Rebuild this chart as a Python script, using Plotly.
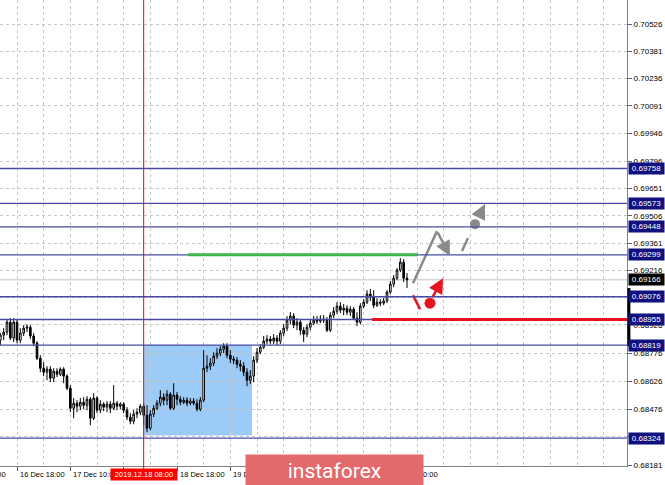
import plotly.graph_objects as go

# ---------------- data ----------------
# hourly bars (index in bars; weekend skipped like MT4)
bar_index = list(range(-5, 118))

opens = [
    0.68845, 0.68872, 0.68888, 0.68941, 0.68856,
    0.68941, 0.68845, 0.68883, 0.68909, 0.68914, 0.68867, 0.68829, 0.68749, 0.68696, 0.68675,
    0.68691, 0.68643, 0.68680, 0.68664, 0.68691, 0.68654, 0.68590, 0.68483, 0.68510, 0.68494,
    0.68515, 0.68499, 0.68531, 0.68430, 0.68537, 0.68473, 0.68505, 0.68489, 0.68505, 0.68483,
    0.68510, 0.68494, 0.68505, 0.68473, 0.68436, 0.68414, 0.68452, 0.68462, 0.68494, 0.68446,
    0.68377, 0.68452, 0.68483, 0.68510, 0.68542, 0.68526, 0.68558, 0.68483, 0.68553, 0.68531,
    0.68515, 0.68526, 0.68510, 0.68521, 0.68510, 0.68478, 0.68526, 0.68696, 0.68707, 0.68723,
    0.68760, 0.68776, 0.68797, 0.68813, 0.68765, 0.68744, 0.68739, 0.68717, 0.68707, 0.68675,
    0.68632, 0.68654, 0.68739, 0.68781, 0.68808, 0.68840, 0.68851, 0.68840, 0.68856, 0.68840,
    0.68883, 0.68909, 0.68952, 0.68973, 0.68925, 0.68941, 0.68898, 0.68877, 0.68914, 0.68936,
    0.68952, 0.68946, 0.68957, 0.68952, 0.68898, 0.68978, 0.68999, 0.69026, 0.69005, 0.69015,
    0.68994, 0.69010, 0.68962, 0.68941, 0.69026, 0.69047, 0.69090, 0.69074, 0.69031, 0.69047,
    0.69042, 0.69053, 0.69101, 0.69143, 0.69175, 0.69218, 0.69260, 0.69175,
]
highs = [
    0.68883, 0.68909, 0.68952, 0.68962, 0.68962,
    0.68957, 0.68909, 0.68925, 0.68930, 0.68925, 0.68883, 0.68840, 0.68765, 0.68728, 0.68707,
    0.68707, 0.68696, 0.68696, 0.68701, 0.68701, 0.68664, 0.68606, 0.68537, 0.68526, 0.68537,
    0.68542, 0.68547, 0.68542, 0.68563, 0.68547, 0.68526, 0.68515, 0.68521, 0.68521, 0.68606,
    0.68521, 0.68515, 0.68515, 0.68489, 0.68457, 0.68473, 0.68483, 0.68505, 0.68510, 0.68499,
    0.68473, 0.68499, 0.68526, 0.68579, 0.68563, 0.68579, 0.68569, 0.68616, 0.68569, 0.68547,
    0.68542, 0.68542, 0.68537, 0.68537, 0.68531, 0.68542, 0.68792, 0.68765, 0.68749, 0.68781,
    0.68803, 0.68813, 0.68829, 0.68829, 0.68792, 0.68760, 0.68755, 0.68739, 0.68728, 0.68696,
    0.68686, 0.68760, 0.68803, 0.68824, 0.68867, 0.68872, 0.68867, 0.68877, 0.68872, 0.68898,
    0.68930, 0.68973, 0.68994, 0.68989, 0.68962, 0.68952, 0.68914, 0.68930, 0.68957, 0.68973,
    0.68973, 0.68978, 0.68978, 0.68968, 0.68994, 0.69021, 0.69047, 0.69047, 0.69037, 0.69031,
    0.69026, 0.69021, 0.68994, 0.69042, 0.69063, 0.69111, 0.69117, 0.69111, 0.69069, 0.69063,
    0.69069, 0.69111, 0.69159, 0.69191, 0.69228, 0.69281, 0.69276, 0.69202,
]
lows = [
    0.68819, 0.68845, 0.68872, 0.68845, 0.68835,
    0.68829, 0.68829, 0.68867, 0.68888, 0.68851, 0.68813, 0.68739, 0.68675, 0.68654, 0.68632,
    0.68622, 0.68622, 0.68649, 0.68654, 0.68616, 0.68579, 0.68462, 0.68430, 0.68462, 0.68473,
    0.68478, 0.68473, 0.68393, 0.68420, 0.68457, 0.68457, 0.68467, 0.68462, 0.68457, 0.68473,
    0.68473, 0.68478, 0.68457, 0.68420, 0.68398, 0.68398, 0.68430, 0.68446, 0.68393, 0.68356,
    0.68366, 0.68436, 0.68473, 0.68494, 0.68499, 0.68499, 0.68473, 0.68473, 0.68499, 0.68499,
    0.68505, 0.68494, 0.68499, 0.68499, 0.68467, 0.68467, 0.68515, 0.68675, 0.68686, 0.68707,
    0.68744, 0.68760, 0.68776, 0.68749, 0.68723, 0.68717, 0.68696, 0.68680, 0.68654, 0.68600,
    0.68611, 0.68622, 0.68723, 0.68771, 0.68797, 0.68824, 0.68824, 0.68824, 0.68819, 0.68824,
    0.68867, 0.68893, 0.68930, 0.68909, 0.68898, 0.68872, 0.68835, 0.68861, 0.68898, 0.68925,
    0.68930, 0.68936, 0.68936, 0.68888, 0.68888, 0.68962, 0.68984, 0.68989, 0.68978, 0.68978,
    0.68973, 0.68952, 0.68920, 0.68930, 0.69015, 0.69037, 0.69053, 0.69015, 0.69021, 0.69026,
    0.69031, 0.69042, 0.69090, 0.69127, 0.69164, 0.69207, 0.69154, 0.69122,
]
closes = [
    0.68872, 0.68888, 0.68941, 0.68856, 0.68941,
    0.68845, 0.68883, 0.68909, 0.68914, 0.68867, 0.68829, 0.68749, 0.68696, 0.68675, 0.68691,
    0.68643, 0.68680, 0.68664, 0.68691, 0.68654, 0.68590, 0.68483, 0.68510, 0.68494, 0.68515,
    0.68499, 0.68531, 0.68430, 0.68537, 0.68473, 0.68505, 0.68489, 0.68505, 0.68483, 0.68510,
    0.68494, 0.68505, 0.68473, 0.68436, 0.68414, 0.68452, 0.68462, 0.68494, 0.68446, 0.68377,
    0.68452, 0.68483, 0.68510, 0.68542, 0.68526, 0.68558, 0.68483, 0.68553, 0.68531, 0.68515,
    0.68526, 0.68510, 0.68521, 0.68510, 0.68478, 0.68526, 0.68696, 0.68707, 0.68723, 0.68760,
    0.68776, 0.68797, 0.68813, 0.68765, 0.68744, 0.68739, 0.68717, 0.68707, 0.68675, 0.68632,
    0.68654, 0.68739, 0.68781, 0.68808, 0.68840, 0.68851, 0.68840, 0.68856, 0.68840, 0.68883,
    0.68909, 0.68952, 0.68973, 0.68925, 0.68941, 0.68898, 0.68877, 0.68914, 0.68936, 0.68952,
    0.68946, 0.68957, 0.68952, 0.68898, 0.68978, 0.68999, 0.69026, 0.69005, 0.69015, 0.68994,
    0.69010, 0.68962, 0.68941, 0.69026, 0.69047, 0.69090, 0.69074, 0.69031, 0.69047, 0.69042,
    0.69053, 0.69101, 0.69143, 0.69175, 0.69218, 0.69260, 0.69175, 0.69166,
]

price_ticks = [0.70526, 0.70381, 0.70236, 0.70091, 0.69946, 0.69796, 0.69651, 0.69506,
               0.69361, 0.69216, 0.69071, 0.68926, 0.68776, 0.68626, 0.68476, 0.68331, 0.68181]
level_prices = [0.69758, 0.69573, 0.69448, 0.69299, 0.69076, 0.68955, 0.68819, 0.68324]
current_price = 0.69166

time_tick_bars = [0, 16, 32, 48, 64, 80, 96, 112]
time_tick_labels = ["16 Dec 18:00", "17 Dec 10:00", "18 Dec 02:00", "18 Dec 18:00",
                    "19 Dec 10:00", "20 Dec 02:00", "20 Dec 18:00", "23 Dec 10:00"]
prev_label = "16 Dec 02:00"
marker_bar = 38
marker_label = "2019.12.18 08:00"

# drawn objects (bar index, price)
zone_bars = [38, 70.5]
zone_prices = [0.68338, 0.68819]
green_bars = [51.3, 120.3]
green_price = 0.69299
red_bars = [106.5, 183]
red_price = 0.68955

gray_path_bars = [118.8, 126.0, 129.9]
gray_path_prices = [0.69148, 0.69425, 0.69292]
gray_dash_bars = [133.5, 135.3]
gray_dash_prices = [0.69319, 0.69388]
gray_dot = (137.4, 0.69462)
gray_head = ([138.9, 140.4], [0.69515, 0.69569])

red_dash_bars = [118.8, 120.9]
red_dash_prices = [0.69084, 0.69010]
red_dot = (123.9, 0.69042)
red_head = ([124.5, 127.8], [0.69069, 0.69175])

X_RANGE = [-5.1, 183.0]
Y_RANGE = [0.68176, 0.70654]

# ---------------- figure ----------------
GRID = "#c8c8c8"
GRID_DASH = "3px,3px"
LEVEL = "#4a4aa6"
NAVY = "#10107e"
GRAY = "#8a8a8a"
RED = "#e5141e"
FONT = "Liberation Sans"

fig = go.Figure()

fig.add_trace(go.Candlestick(
    x=bar_index, open=opens, high=highs, low=lows, close=closes,
    increasing=dict(line=dict(color="black", width=1), fillcolor="white"),
    decreasing=dict(line=dict(color="black", width=1), fillcolor="black"),
    whiskerwidth=0, showlegend=False, hoverinfo="skip",
))

# forecast sketches
fig.add_trace(go.Scatter(x=gray_path_bars[:2], y=gray_path_prices[:2], mode="lines",
                         line=dict(color=GRAY, width=2.5), showlegend=False, hoverinfo="skip"))
fig.add_trace(go.Scatter(x=gray_dash_bars, y=gray_dash_prices, mode="lines",
                         line=dict(color=GRAY, width=2.5), showlegend=False, hoverinfo="skip"))
fig.add_trace(go.Scatter(x=[gray_dot[0]], y=[gray_dot[1]], mode="markers",
                         marker=dict(color=GRAY, size=10), showlegend=False, hoverinfo="skip"))
fig.add_trace(go.Scatter(x=red_dash_bars, y=red_dash_prices, mode="lines",
                         line=dict(color=RED, width=2.5), showlegend=False, hoverinfo="skip"))
fig.add_trace(go.Scatter(x=[red_dot[0]], y=[red_dot[1]], mode="markers",
                         marker=dict(color=RED, size=11), showlegend=False, hoverinfo="skip"))

shapes = []
shapes.append(dict(type="rect", xref="x", yref="y", x0=zone_bars[0], x1=zone_bars[1],
                   y0=zone_prices[0], y1=zone_prices[1], fillcolor="#9dcbf7",
                   line=dict(width=0), layer="below"))
shapes.append(dict(type="line", xref="paper", yref="y", x0=0, x1=1,
                   y0=current_price, y1=current_price, line=dict(color="#c0c0c0", width=1),
                   layer="between"))
for p in level_prices:
    shapes.append(dict(type="line", xref="paper", yref="y", x0=0, x1=1, y0=p, y1=p,
                       line=dict(color=LEVEL, width=1.3), layer="above"))
shapes.append(dict(type="line", xref="x", yref="y", x0=green_bars[0], x1=green_bars[1],
                   y0=green_price, y1=green_price, line=dict(color="#3cb54a", width=3)))
shapes.append(dict(type="line", xref="x", yref="y", x0=red_bars[0], x1=red_bars[1],
                   y0=red_price, y1=red_price, line=dict(color=RED, width=3)))
shapes.append(dict(type="line", xref="x", yref="paper", x0=marker_bar, x1=marker_bar,
                   y0=-0.01, y1=1, line=dict(color="#ff0000", width=1)))
shapes.append(dict(type="line", xref="paper", yref="y", x0=1.003, x1=1.003,
                   y0=0.68813, y1=0.69122, line=dict(color="black", width=3)))

annotations = []
# forecast arrow heads
annotations.append(dict(x=gray_path_bars[2], y=gray_path_prices[2], ax=gray_path_bars[1],
                        ay=gray_path_prices[1], xref="x", yref="y", axref="x", ayref="y",
                        showarrow=True, arrowhead=2, arrowsize=1.2, arrowwidth=2.5,
                        arrowcolor=GRAY, text="", standoff=0))
annotations.append(dict(x=gray_head[0][1], y=gray_head[1][1], ax=gray_head[0][0],
                        ay=gray_head[1][0], xref="x", yref="y", axref="x", ayref="y",
                        showarrow=True, arrowhead=2, arrowsize=1.2, arrowwidth=2.5,
                        arrowcolor=GRAY, text="", standoff=0))
annotations.append(dict(x=red_head[0][1], y=red_head[1][1], ax=red_head[0][0],
                        ay=red_head[1][0], xref="x", yref="y", axref="x", ayref="y",
                        showarrow=True, arrowhead=2, arrowsize=1.2, arrowwidth=2.5,
                        arrowcolor=RED, text="", standoff=0))

# level labels on the price axis
for p in level_prices:
    annotations.append(dict(x=1.0016, xref="paper", xanchor="left", y=p, yref="y",
                            yanchor="middle", text=f"{p:.5f}", showarrow=False,
                            bgcolor=NAVY, font=dict(color="white", size=8, family=FONT),
                            borderpad=1, width=33))
annotations.append(dict(x=1.0016, xref="paper", xanchor="left", y=current_price, yref="y",
                        yanchor="middle", text=f"{current_price:.5f}", showarrow=False,
                        bgcolor="black", font=dict(color="white", size=8, family=FONT),
                        borderpad=1, width=33))

# time labels
LABEL_Y = -0.0193
annotations.append(dict(x=-2.7, xref="x", xanchor="right", y=LABEL_Y, yref="paper",
                        yanchor="middle", text=prev_label, showarrow=False,
                        font=dict(color="black", size=7.5, family=FONT)))
for b, t in zip(time_tick_bars, time_tick_labels):
    annotations.append(dict(x=b, xref="x", xanchor="left", xshift=1, y=LABEL_Y, yref="paper",
                            yanchor="middle", text=t, showarrow=False,
                            font=dict(color="black", size=7.5, family=FONT)))
annotations.append(dict(x=marker_bar, xref="x", xanchor="center", y=LABEL_Y, yref="paper",
                        yanchor="middle", text=marker_label, showarrow=False,
                        bgcolor="#ff0000", borderpad=1, width=64,
                        font=dict(color="white", size=7.5, family=FONT)))

# watermark logo
annotations.append(dict(x=245 / 627, xref="paper", xanchor="left", y=1 - 454 / 466,
                        yref="paper", yanchor="top", text="instaforex", showarrow=False,
                        bgcolor="#e26a6c", borderpad=0, width=177, height=31,
                        font=dict(color="white", size=21, family="Roboto")))

fig.update_layout(
    width=665, height=485, autosize=False,
    margin=dict(l=0, r=38, t=0, b=19),
    paper_bgcolor="white", plot_bgcolor="white",
    showlegend=False, hovermode=False,
    shapes=shapes, annotations=annotations,
    xaxis=dict(
        range=X_RANGE, rangeslider=dict(visible=False), fixedrange=True,
        tickmode="array", tickvals=time_tick_bars, ticks="outside", ticklen=4,
        tickcolor="#606060", showticklabels=False,
        showgrid=True, gridcolor=GRID, griddash=GRID_DASH, gridwidth=1,
        minor=dict(tickmode="linear", tick0=0, dtick=8, showgrid=True, gridcolor=GRID,
                   griddash=GRID_DASH, gridwidth=1, ticks=""),
        showline=True, linecolor="#808080", linewidth=1, zeroline=False,
    ),
    yaxis=dict(
        range=Y_RANGE, side="right", fixedrange=True,
        tickmode="array", tickvals=price_ticks, ticktext=[f"{v:.5f}" for v in price_ticks],
        ticks="outside", ticklen=4, tickcolor="#606060",
        tickfont=dict(color="black", size=8, family=FONT),
        showgrid=True, gridcolor=GRID, griddash=GRID_DASH, gridwidth=1,
        showline=True, linecolor="#808080", linewidth=1, zeroline=False,
    ),
)

fig.write_html("out.html", config={"displayModeBar": False, "staticPlot": True},
               post_script="document.body.style.margin='0px';")
